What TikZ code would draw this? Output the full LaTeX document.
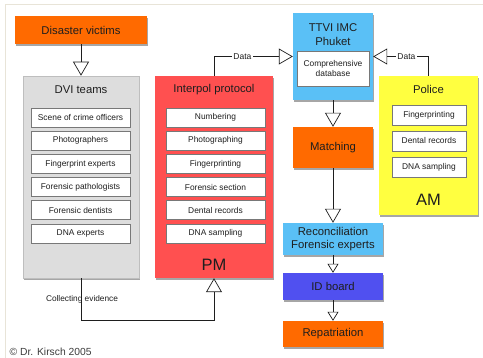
\documentclass[tikz,border=0pt]{standalone}
\usepackage{fontspec}
\setmainfont{Liberation Sans}
\usetikzlibrary{arrows.meta,shadows,positioning}
\definecolor{orng}{RGB}{255,106,0}
\definecolor{dvigray}{RGB}{221,221,221}
\definecolor{ipred}{RGB}{255,80,80}
\definecolor{skyb}{RGB}{90,192,246}
\definecolor{polyel}{RGB}{255,255,64}
\definecolor{idblue}{RGB}{80,80,240}
\definecolor{txt}{RGB}{30,30,30}
\definecolor{itemedge}{RGB}{120,120,120}
\definecolor{frame}{RGB}{232,228,216}
\definecolor{dviedge}{RGB}{190,190,190}
\definecolor{copyc}{RGB}{60,60,60}
\tikzset{
  shad/.style={drop shadow={shadow xshift=1pt,shadow yshift=-2.5pt,opacity=0.35,fill=black}},
  bigbox/.style={shad,inner sep=0pt,text=txt},
  item/.style={draw=itemedge,fill=white,line width=0.6pt,minimum height=19pt,inner sep=0pt,
    font=\fontsize{8.4}{10}\selectfont,text=txt},
  ttl/.style={font=\fontsize{11.3}{13.5}\selectfont,text=txt,align=center},
  big/.style={font=\fontsize{16.5}{18}\selectfont,text=txt},
  lbl/.style={font=\fontsize{8.5}{10}\selectfont,text=txt,inner sep=1.5pt},
  conn/.style={draw=txt,line width=0.7pt},
  tri/.style={-{Triangle[open,length=14pt,width=16pt,line width=0.7pt]}},
  smalltri/.style={-{Triangle[open,length=9pt,width=11pt,line width=0.7pt]}},
}
\begin{document}
\begin{tikzpicture}[x=1pt,y=-1pt]
\useasboundingbox[fill=white] (0,0) rectangle (483,358);
\draw[color=frame,line width=0.8pt] (5,358) -- (5,4.5) -- (483,4.5);

% top-left
\node[bigbox,fill=orng,minimum width=132pt,minimum height=28pt,ttl] (victims) at (81,30) {Disaster victims};

% DVI teams
\node[bigbox,fill=dvigray,draw=dviedge,line width=0.6pt,minimum width=116pt,minimum height=202pt] (dvi) at (81,177) {};
\node[ttl] (dvit) at (81,89.5) {DVI teams};
\node[item,minimum width=99pt] (d1) at (80.5,117.5) {Scene of crime officers};
\node[item,minimum width=99pt] (d2) at (80.5,140.7) {Photographers};
\node[item,minimum width=99pt] (d3) at (80.5,163.9) {Fingerprint experts};
\node[item,minimum width=99pt] (d4) at (80.5,187.1) {Forensic pathologists};
\node[item,minimum width=99pt] (d5) at (80.5,210.3) {Forensic dentists};
\node[item,minimum width=99pt] (d6) at (80.5,233.5) {DNA experts};

% Interpol
\node[bigbox,fill=ipred,minimum width=118pt,minimum height=202pt] (ip) at (214,177) {};
\node[ttl] (ipt) at (214,89.5) {Interpol protocol};
\node[item,minimum width=99pt] (p1) at (215.5,117.5) {Numbering};
\node[item,minimum width=99pt] (p2) at (215.5,140.7) {Photographing};
\node[item,minimum width=99pt] (p3) at (215.5,163.9) {Fingerprinting};
\node[item,minimum width=99pt] (p4) at (215.5,187.1) {Forensic section};
\node[item,minimum width=99pt] (p5) at (215.5,210.3) {Dental records};
\node[item,minimum width=99pt] (p6) at (215.5,233.5) {DNA sampling};
\node[big] (pm) at (214,264.5) {PM};

% TTVI
\node[bigbox,fill=skyb,minimum width=80pt,minimum height=87pt] (ttvi) at (333,56.5) {};
\node[ttl] (ttvit) at (333,34.5) {TTVI IMC\\Phuket};
\node[item,minimum width=72pt,minimum height=35pt,align=center,font=\fontsize{8.4}{10.5}\selectfont] (db) at (333,68.5) {Comprehensive\\database};

% Police
\node[bigbox,fill=polyel,minimum width=99pt,minimum height=139pt] (pol) at (428.5,145.5) {};
\node[ttl] (polt) at (428.5,89.5) {Police};
\node[item,minimum width=74pt,minimum height=20pt] (a1) at (429,115) {Fingerprinting};
\node[item,minimum width=74pt,minimum height=20pt] (a2) at (429,141) {Dental records};
\node[item,minimum width=74pt,minimum height=20pt] (a3) at (429,167) {DNA sampling};
\node[big] (am) at (428.5,200) {AM};

% chain
\node[bigbox,fill=orng,minimum width=80pt,minimum height=41pt,ttl] (match) at (333,147.5) {Matching};
\node[bigbox,fill=skyb,minimum width=100pt,minimum height=32pt,ttl] (recon) at (333,239) {Reconciliation\\Forensic experts};
\node[bigbox,fill=idblue,minimum width=100pt,minimum height=27pt,ttl] (idb) at (333,286.5) {ID board};
\node[bigbox,fill=orng,minimum width=100pt,minimum height=26pt,ttl] (rep) at (333,334) {Repatriation};

% connectors
\draw[conn,tri] (victims.south) -- (dvi.north);
\draw[conn,tri] (ip.north) |- node[lbl,fill=white,pos=0.68] {Data} (ttvi.west);
\draw[conn,tri] (pol.north) |- node[lbl,fill=white,pos=0.70] {Data} (ttvi.east);
\draw[conn,tri] (ttvi.south) -- (match.north);
\draw[conn,tri] (match.south) -- (recon.north);
\draw[conn,smalltri] (recon.south) -- (idb.north);
\draw[conn,smalltri] (idb.south) -- (rep.north);
\coordinate (ce) at (81,320);
\draw[conn,tri] (dvi.south) -- (ce) -| (ip.south);
\node[lbl,font=\fontsize{8.3}{10}\selectfont] (cel) at (82,299.5) {Collecting evidence};

\node[anchor=west,inner sep=0pt,font=\fontsize{10.3}{12}\selectfont,text=copyc] (copy) at (9.5,351.5) {© Dr. Kirsch 2005};
\end{tikzpicture}
\end{document}
